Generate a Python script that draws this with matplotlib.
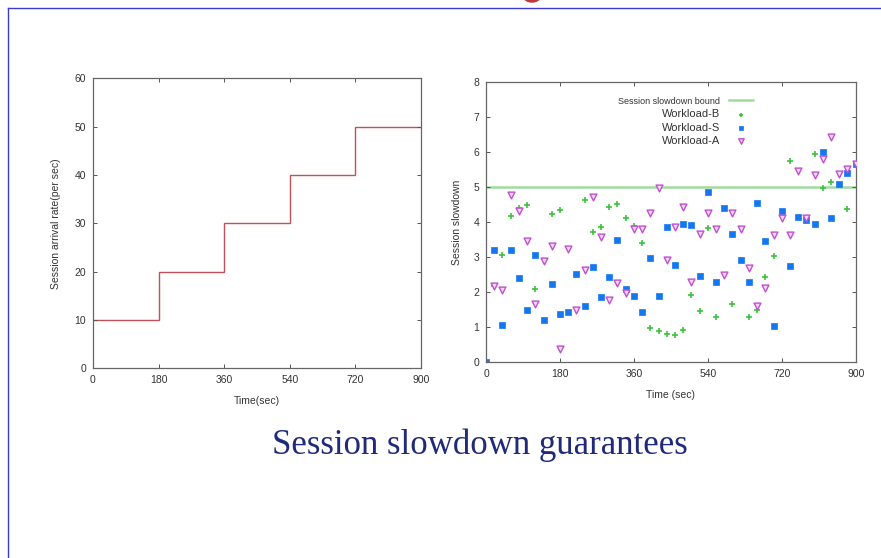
import matplotlib
matplotlib.use("Agg")
import matplotlib.pyplot as plt
from matplotlib.lines import Line2D
from matplotlib.patches import Circle

plt.rcParams['font.family'] = ['Liberation Sans', 'DejaVu Sans']

# ---- data ----
step_times = [0, 180, 360, 540, 720, 900]
arrival_rates = [10, 20, 30, 40, 50]

s_times = [0, 20, 40, 60, 80, 100, 120, 140, 160, 180, 200, 220, 240, 260, 280, 300,
           320, 340, 360, 380, 400, 420, 440, 460, 480, 500, 520, 540, 560, 580, 600,
           620, 640, 660, 680, 700, 720, 740, 760, 780, 800, 820, 840, 860, 880, 900]
s_vals = [0, 3.2, 1.05, 3.2, 2.4, 1.48, 3.05, 1.2, 2.22, 1.38, 1.43, 2.52, 1.6, 2.72, 1.87, 2.43,
          3.5, 2.1, 1.9, 1.42, 2.98, 1.9, 3.85, 2.78, 3.93, 3.92, 2.47, 4.85, 2.3, 4.4, 3.67,
          2.93, 2.3, 4.53, 3.45, 1.03, 4.32, 2.75, 4.15, 4.05, 3.95, 6.0, 4.1, 5.08, 5.4, 5.65]

a_times = [20, 40, 60, 80, 100, 120, 140, 160, 180, 200, 220, 240, 260, 280, 300,
           320, 340, 360, 380, 400, 420, 440, 460, 480, 500, 520, 540, 560, 580, 600,
           620, 640, 660, 680, 700, 720, 740, 760, 780, 800, 820, 840, 860, 880, 900]
a_vals = [2.18, 2.07, 4.78, 4.3, 3.45, 1.67, 2.88, 3.33, 0.38, 3.22, 1.5, 2.62, 4.72, 3.57, 1.78,
          2.25, 1.98, 3.8, 3.8, 4.25, 4.98, 2.92, 3.87, 4.43, 2.28, 3.65, 4.25, 3.8, 2.48, 4.25,
          3.8, 2.7, 1.6, 2.13, 3.63, 4.12, 3.63, 5.45, 4.12, 5.35, 5.8, 6.42, 5.38, 5.5, 5.65]

b_times = [20, 40, 60, 80, 100, 120, 160, 180, 240, 260, 280, 300, 320, 340, 360, 380,
           400, 420, 440, 460, 480, 500, 520, 540, 560, 600, 640, 660, 680, 700,
           740, 800, 820, 840, 880]
b_vals = [2.17, 3.05, 4.18, 4.4, 4.48, 2.08, 4.22, 4.35, 4.62, 3.72, 3.85, 4.42, 4.5, 4.1, 3.9, 3.4,
          0.97, 0.9, 0.82, 0.77, 0.92, 1.93, 1.45, 3.83, 1.3, 1.65, 1.3, 1.5, 2.43, 3.02,
          5.73, 5.95, 4.98, 5.13, 4.38]

bound = 5
x_ticks = [0, 180, 360, 540, 720, 900]
title_text = "Session slowdown guarantees"

# ---- figure ----
W, H = 881, 558
fig = plt.figure(figsize=(W / 100, H / 100), dpi=100)
fig.patch.set_facecolor("white")

def fx(px):
    return px / W

def fy(py):
    return 1 - py / H

# slide frame
frame_col = "#3a3ad8"
fig.add_artist(Line2D([fx(8), fx(8)], [fy(8), 0], color=frame_col, lw=1.0, transform=fig.transFigure))
fig.add_artist(Line2D([fx(8), 1], [fy(8), fy(8)], color=frame_col, lw=1.0, transform=fig.transFigure))
fig.add_artist(Circle((fx(532), fy(-3)), 0.009, color="#c0393b", transform=fig.transFigure))

tick_col = "#333333"
spine_col = "#666666"

def style_ax(ax):
    for s in ax.spines.values():
        s.set_color(spine_col)
        s.set_linewidth(0.9)
    ax.tick_params(direction="in", length=3, width=0.7, color="#555555",
                   labelsize=7.5, labelcolor=tick_col, top=True, right=True, pad=5)

# left chart
ax1 = fig.add_axes([fx(93), fy(368.3), fx(421 - 93), (368.3 - 78.3) / H])
ax1.stairs(arrival_rates, step_times, color="#c0505a", lw=1.0, baseline=None)
ax1.set_xlim(0, 900)
ax1.set_ylim(0, 60)
ax1.set_xticks(x_ticks)
ax1.set_yticks(range(0, 61, 10))
style_ax(ax1)
ax1.set_xlabel("Time(sec)", fontsize=7.5, color=tick_col, labelpad=8)
ax1.set_ylabel("Session arrival rate(per sec)", fontsize=7.5, color=tick_col, labelpad=10)

# right chart
ax2 = fig.add_axes([fx(486), fy(362.3), fx(855.7 - 486), (362.3 - 81.7) / H])
ax2.axhline(bound, color="#9fdc9f", lw=1.8, label="Session slowdown bound", zorder=1)
ax2.scatter(b_times, b_vals, marker="+", s=18, color="#3cc43c", linewidths=1.2,
            label="Workload-B", zorder=3)
ax2.scatter(s_times, s_vals, marker="s", s=17, color="#1477f0", edgecolors="#1477f0",
            linewidths=0.5, label="Workload-S", zorder=2)
ax2.scatter(a_times, a_vals, marker="v", s=24, facecolors="#f4d8f4", edgecolors="#c050d0",
            linewidths=1.0, label="Workload-A", zorder=4)
ax2.set_xlim(0, 900)
ax2.set_ylim(0, 8)
ax2.set_xticks(x_ticks)
ax2.set_yticks(range(0, 9))
style_ax(ax2)
ax2.set_xlabel("Time (sec)", fontsize=7.5, color=tick_col, labelpad=8)
ax2.set_ylabel("Session slowdown", fontsize=7.5, color=tick_col, labelpad=8)

leg = ax2.legend(loc="upper right", bbox_to_anchor=(fx(759), fy(91)),
                 bbox_transform=fig.transFigure, frameon=False, markerfirst=False,
                 fontsize=8, handlelength=2.2, handletextpad=0.8, labelspacing=0.28,
                 borderpad=0.0, scatterpoints=1, markerscale=0.8)
for t in leg.get_texts():
    t.set_color("#333333")
    t.set_ha("right")
leg.get_texts()[0].set_fontsize(6.5)
leg._legend_box.align = "right"

fig.text(0.545, fy(445), title_text, ha="center", va="center",
         fontsize=25, color="#1f2a7a", family="Liberation Serif")

fig.savefig("out.png", dpi=100)
